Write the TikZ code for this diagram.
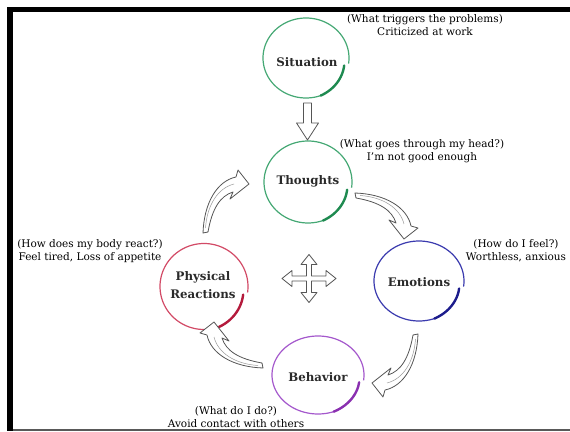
\documentclass[tikz,border=0pt]{standalone}
\usepackage{fontspec}
\setmainfont{DejaVu Serif}
\usetikzlibrary{calc}
\definecolor{grn}{HTML}{45A874}
\definecolor{grnd}{HTML}{1E8A50}
\definecolor{blu}{HTML}{3A3AAE}
\definecolor{blud}{HTML}{1C1C8C}
\definecolor{redl}{HTML}{D24A66}
\definecolor{redd}{HTML}{B41A3C}
\definecolor{pur}{HTML}{A458CC}
\definecolor{purd}{HTML}{8A30B0}
\definecolor{txt}{HTML}{2A2A2A}
\definecolor{arr}{HTML}{555555}
\newcommand\ringdraw[5]{%
 \begin{scope}[shift={(#1)}]
  \draw[#2, line width=1.2pt] plot[domain=-8:290, samples=90] ({#4*cos(\x)},{#5*sin(\x)});
  \draw[#3, line width=2.4pt, line cap=round] plot[domain=290:348, samples=30] ({(#4-(\x-290)/58*4)*cos(\x)},{(#5-(\x-290)/58*4)*sin(\x)});
 \end{scope}}
\tikzset{
 lbl/.style={font=\bfseries\fontsize{11.8}{18}\selectfont, text=txt, align=center, inner sep=0pt},
 note/.style={font=\fontsize{10.5}{13}\selectfont, text=black, align=center, inner sep=0pt},
 blockarrow/.style={draw=arr, fill=white, line width=0.8pt, line join=round},
 cycarrow/.pic={
  \draw[blockarrow] (0,0) .. controls (1,30) and (14,52) .. (33,56) -- (35,63) -- (46,49) -- (27,34) -- (30,41) .. controls (17,37) and (9,24) .. (5,1) -- cycle;
  \draw[arr!60, line width=0.5pt] (2.5,5) .. controls (4,28) and (15,45) .. (31,49);
 },
 downarr/.pic={
  \draw[blockarrow] (-4,18.5) -- (4,18.5) -- (4,-1.5) -- (11,-1.5) -- (0,-18.5) -- (-11,-1.5) -- (-4,-1.5) -- cycle;
 },
 fourarr/.pic={
  \draw[blockarrow] (27,0) -- (17,8) -- (17,2.5) -- (2.5,2.5) -- (2.5,14) -- (8,14) -- (0,24) -- (-8,14) -- (-2.5,14) -- (-2.5,2.5) -- (-17,2.5) -- (-17,8) -- (-27,0) -- (-17,-8) -- (-17,-2.5) -- (-2.5,-2.5) -- (-2.5,-14) -- (-8,-14) -- (0,-24) -- (8,-14) -- (2.5,-14) -- (2.5,-2.5) -- (17,-2.5) -- (17,-8) -- cycle;
 }
}
\begin{document}
\begin{tikzpicture}[x=1pt,y=1pt]
\useasboundingbox (0,0) rectangle (570,431);
% frame
\fill[black] (7,424) rectangle (570,418.5);
\fill[black] (7,424) rectangle (12.5,0);
\fill[black!65] (12.5,0) rectangle (570,1.6);
% nodes
\node[lbl] (sit) at (307,369) {Situation};
\node[lbl] (th) at (308,250) {Thoughts};
\node[lbl] (emo) at (419,149) {Emotions};
\node[lbl] (phys) at (203,146) {Physical\\Reactions};
\node[lbl] (beh) at (318,54) {Behavior};
% notes
\node[note] (sitn) at (425,405.5) {(What triggers the problems)\\Criticized at work};
\node[note] (thn) at (422,280) {(What goes through my head?)\\I'm not good enough};
\node[note] (emon) at (516,180) {(How do I feel?)\\Worthless, anxious};
\node[note] (physn) at (90,179.5) {(How does my body react?)\\Feel tired, Loss of appetite};
\node[note] (behn) at (236,13.5) {(What do I do?)\\Avoid contact with others};
% rings
\ringdraw{$(sit)+(-1,4)$}{grn}{grnd}{43}{40}
\ringdraw{$(th)+(0,-1)$}{grn}{grnd}{44}{41}
\ringdraw{$(emo)+(0,1)$}{blu}{blud}{45}{40}
\ringdraw{$(phys)+(1,-1.5)$}{redl}{redd}{44}{43}
\ringdraw{$(beh)+(0,2)$}{pur}{purd}{46}{39}
% arrows
\pic at ($(sit)!0.5!(th)$) {downarr};
\pic at ($(phys)!0.5!(emo)+(-2,5)$) {fourarr};
\pic at ($(phys)+(0,52)$) {cycarrow};
\pic[rotate=-90] at ($(th)+(47,-12)$) {cycarrow};
\pic[rotate=180] at ($(emo)+(-1,-52)$) {cycarrow};
\pic[rotate=90] at ($(beh)+(-55,9)$) {cycarrow};
\end{tikzpicture}
\end{document}
